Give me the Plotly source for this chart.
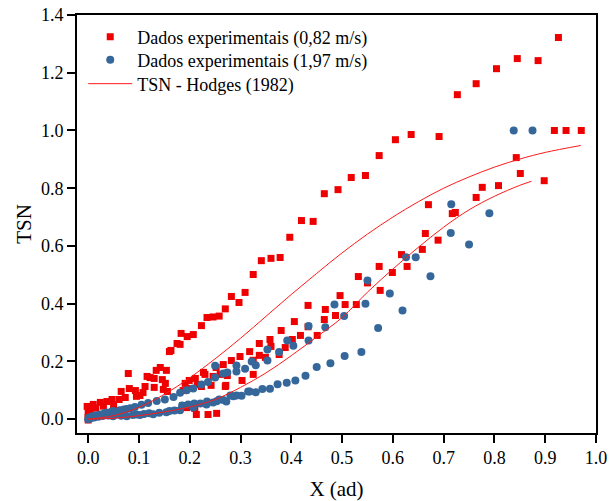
import plotly.graph_objects as go

# Experimental data, 0.82 m/s
red_x = [0.0, 0.0, 0.0, -0.002, 0.004, 0.010, 0.015, 0.024, 0.030, 0.037, 0.047, 0.050, 0.061, 0.065,
         0.073, 0.079, 0.081, 0.093, 0.095, 0.102, 0.108, 0.112, 0.116, 0.122, 0.130, 0.130, 0.134,
         0.142, 0.146, 0.148, 0.152, 0.154, 0.156, 0.160, 0.163, 0.175, 0.181, 0.183, 0.186, 0.187,
         0.191, 0.194, 0.195, 0.195, 0.199, 0.207, 0.210, 0.211, 0.213, 0.215, 0.223, 0.223, 0.227,
         0.230, 0.234, 0.236, 0.242, 0.246, 0.246, 0.252, 0.253, 0.258, 0.260, 0.266, 0.270, 0.270,
         0.271, 0.274, 0.282, 0.282, 0.297, 0.299, 0.303, 0.309, 0.318, 0.325, 0.325, 0.325, 0.337,
         0.337, 0.341, 0.349, 0.358, 0.360, 0.360, 0.376, 0.378, 0.380, 0.388, 0.397, 0.402, 0.406,
         0.418, 0.420, 0.433, 0.433, 0.443, 0.451, 0.465, 0.465, 0.467, 0.487, 0.492, 0.496, 0.506,
         0.518, 0.528, 0.532, 0.546, 0.550, 0.573, 0.573, 0.575, 0.599, 0.605, 0.617, 0.628, 0.636,
         0.658, 0.664, 0.670, 0.689, 0.691, 0.717, 0.723, 0.727, 0.764, 0.764, 0.776, 0.804, 0.808,
         0.843, 0.845, 0.851, 0.886, 0.898, 0.918, 0.926, 0.941, 0.971]
red_y = [-0.003, 0.006, 0.020, 0.044, 0.030, 0.051, 0.038, 0.058, 0.045, 0.061, 0.068, 0.050, 0.068, 0.096,
         0.075, 0.158, 0.106, 0.099, 0.079, 0.082, 0.092, 0.113, 0.148, 0.144, 0.141, 0.110, 0.169,
         0.179, 0.137, 0.103, 0.124, 0.169, 0.096, 0.234, 0.238, 0.262, 0.259, 0.297, 0.047, 0.099,
         0.124, 0.040, 0.106, 0.286, 0.134, 0.293, 0.037, 0.141, 0.016, 0.120, 0.113, 0.324, 0.162,
         0.155, 0.352, 0.016, 0.117, 0.148, 0.354, 0.179, 0.020, 0.357, 0.155, 0.189, 0.113, 0.382,
         0.117, 0.151, 0.203, 0.425, 0.404, 0.217, 0.134, 0.439, 0.234, 0.204, 0.155, 0.501, 0.221,
         0.262, 0.549, 0.214, 0.276, 0.252, 0.557, 0.224, 0.560, 0.307, 0.248, 0.630, 0.276, 0.338,
         0.290, 0.688, 0.320, 0.394, 0.685, 0.290, 0.345, 0.781, 0.380, 0.359, 0.795, 0.428, 0.397,
         0.837, 0.397, 0.494, 0.844, 0.472, 0.529, 0.913, 0.446, 0.508, 0.968, 0.570, 0.529, 0.986,
         0.588, 0.643, 0.743, 0.620, 0.979, 0.712, 0.716, 1.124, 0.768, 1.162, 0.803, 1.214, 0.809,
         0.906, 1.249, 0.851, 1.242, 0.826, 1.000, 1.322, 1.000, 1.000]

# Experimental data, 1.97 m/s
blue_x = [0.000, 0.002, 0.005, 0.008, 0.012, 0.015, 0.020, 0.023, 0.028, 0.032, 0.036, 0.040, 0.045,
          0.049, 0.049, 0.055, 0.062, 0.065, 0.070, 0.076, 0.076, 0.083, 0.088, 0.092, 0.095, 0.102,
          0.105, 0.110, 0.118, 0.120, 0.128, 0.135, 0.140, 0.151, 0.154, 0.160, 0.168, 0.170, 0.181,
          0.181, 0.185, 0.194, 0.197, 0.207, 0.207, 0.209, 0.221, 0.223, 0.233, 0.234, 0.236, 0.246,
          0.250, 0.250, 0.253, 0.258, 0.266, 0.266, 0.272, 0.274, 0.280, 0.286, 0.292, 0.292, 0.292,
          0.302, 0.309, 0.315, 0.318, 0.322, 0.330, 0.330, 0.343, 0.353, 0.353, 0.358, 0.373, 0.376,
          0.391, 0.392, 0.404, 0.408, 0.428, 0.434, 0.434, 0.450, 0.467, 0.477, 0.485, 0.504, 0.505,
          0.538, 0.546, 0.550, 0.571, 0.594, 0.619, 0.626, 0.645, 0.674, 0.714, 0.715, 0.750, 0.790,
          0.838, 0.875]
blue_y = [0.000, 0.006, 0.003, 0.010, 0.006, 0.013, 0.008, 0.016, 0.011, 0.020, 0.023, 0.013, 0.025,
          0.028, 0.010, 0.016, 0.031, 0.012, 0.033, 0.035, 0.010, 0.038, 0.014, 0.042, 0.016, 0.014,
          0.050, 0.018, 0.056, 0.020, 0.017, 0.063, 0.022, 0.068, 0.024, 0.028, 0.077, 0.030, 0.091,
          0.031, 0.047, 0.100, 0.051, 0.106, 0.040, 0.054, 0.054, 0.120, 0.051, 0.061, 0.129, 0.058,
          0.144, 0.185, 0.062, 0.068, 0.158, 0.066, 0.061, 0.162, 0.082, 0.079, 0.165, 0.186, 0.082,
          0.081, 0.175, 0.096, 0.096, 0.200, 0.187, 0.093, 0.104, 0.203, 0.241, 0.105, 0.121, 0.233,
          0.126, 0.272, 0.254, 0.134, 0.150, 0.272, 0.323, 0.181, 0.318, 0.194, 0.397, 0.357, 0.219,
          0.233, 0.400, 0.480, 0.316, 0.435, 0.376, 0.561, 0.561, 0.495, 0.645, 0.744, 0.605, 0.713,
          1.000, 1.000]

# TSN model curves - Hodges (1982), two velocity cases
model1_x = [0.0, 0.05, 0.1, 0.15, 0.2, 0.25, 0.3, 0.35, 0.4, 0.45, 0.5, 0.55, 0.6, 0.65, 0.7,
            0.75, 0.8, 0.85, 0.9, 0.97]
model1_y = [0.0, 0.012, 0.041, 0.086, 0.143, 0.209, 0.280, 0.356, 0.432, 0.505, 0.576, 0.641,
            0.700, 0.753, 0.800, 0.839, 0.873, 0.901, 0.924, 0.948]
model2_x = [0.0, 0.05, 0.1, 0.15, 0.2, 0.25, 0.3, 0.35, 0.4, 0.45, 0.5, 0.55, 0.6, 0.65, 0.7,
            0.75, 0.8, 0.85, 0.873]
model2_y = [0.0, 0.003, 0.012, 0.025, 0.042, 0.068, 0.110, 0.160, 0.220, 0.285, 0.352, 0.440,
            0.520, 0.595, 0.665, 0.725, 0.772, 0.810, 0.824]

x_ticks = [0.0, 0.1, 0.2, 0.3, 0.4, 0.5, 0.6, 0.7, 0.8, 0.9, 1.0]
y_ticks = [0.0, 0.2, 0.4, 0.6, 0.8, 1.0, 1.2, 1.4]

SERIF = "Liberation Serif, Times New Roman, serif"

fig = go.Figure()
fig.add_trace(go.Scatter(
    x=red_x, y=red_y, mode="markers", name="Dados experimentais (0,82 m/s)",
    marker=dict(symbol="square", size=7, color="#EE0000", line=dict(width=0)),
    legend="legend", showlegend=True,
))
fig.add_trace(go.Scatter(
    x=blue_x, y=blue_y, mode="markers", name="Dados experimentais (1,97 m/s)",
    marker=dict(symbol="circle", size=8, color="#36679A", line=dict(width=0)),
    legend="legend2", showlegend=True,
))
fig.add_trace(go.Scatter(
    x=model1_x + [None] + model2_x, y=model1_y + [None] + model2_y,
    mode="lines", name="TSN - Hodges (1982)", connectgaps=False,
    line=dict(color="#FF1A1A", width=1, shape="spline"),
    legend="legend3", showlegend=True,
))

axis_common = dict(
    showline=True, linecolor="black", linewidth=1.6, mirror=True,
    ticks="outside", ticklen=8, tickwidth=1.5, tickcolor="black",
    showgrid=False, zeroline=False, automargin=False,
    tickfont=dict(family=SERIF, size=18, color="black"),
    tickformat=".1f",
)

fig.update_xaxes(
    range=[-0.022, 1.0], tickvals=x_ticks,
    title=dict(text="X (ad)", font=dict(family=SERIF, size=21, color="black"), standoff=16),
    **axis_common,
)
fig.update_yaxes(
    range=[-0.048, 1.4], tickvals=y_ticks,
    title=dict(text="TSN", font=dict(family=SERIF, size=21, color="black"), standoff=4),
    **axis_common,
)

# One legend box per row so the rows sit at the same spacing as the key
legend_style = dict(
    x=0.012, xanchor="left", yanchor="middle",
    bgcolor="rgba(0,0,0,0)", borderwidth=0,
    font=dict(family=SERIF, size=18, color="black"),
    itemwidth=44, visible=True,
)

fig.update_layout(
    width=614, height=501,
    margin=dict(l=77, r=18, t=15, b=68),
    plot_bgcolor="white", paper_bgcolor="white",
    font=dict(family=SERIF, color="black"),
    showlegend=True,
    legend=dict(y=0.947, **legend_style),
    legend2=dict(y=0.892, **legend_style),
    legend3=dict(y=0.835, **legend_style),
)

fig.write_html("out.html")
